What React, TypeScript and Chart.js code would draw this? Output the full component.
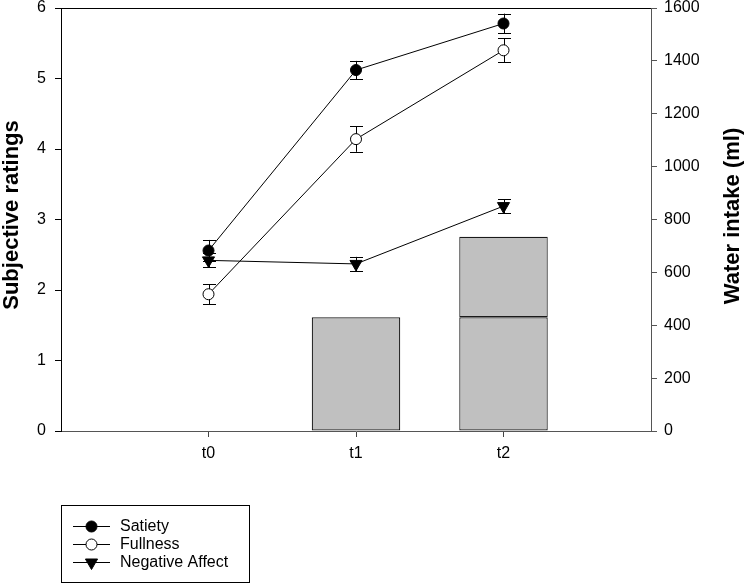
import React, { useEffect, useRef } from 'react';
import { Chart, registerables } from 'chart.js';

Chart.register(...registerables);

const categories = ['t0', 't1', 't2'];
const satiety = [2.56, 5.12, 5.78];
const satietyErr = [0.15, 0.13, 0.14];
const fullness = [1.94, 4.14, 5.4];
const fullnessErr = [0.14, 0.18, 0.17];
const negativeAffect = [2.42, 2.37, 3.19];
const negativeAffectErr = [0.1, 0.1, 0.1];
const waterFirst: (number | null)[] = [null, 430, 430];
const waterSecond: (number | null)[] = [null, null, 305];
const leftTitle = 'Subjective ratings';
const rightTitle = 'Water intake (ml)';

const FONT = "'Liberation Sans', Arial, Helvetica, sans-serif";

const toPoints = (vals: (number | null)[]) => vals.map((v, i) => ({ x: i, y: v }));

const errorBarPlugin = {
  id: 'errorBars',
  beforeDatasetsDraw(chart: any) {
    const ctx = chart.ctx;
    const y = chart.scales.y;
    const x = chart.scales.x;
    ctx.save();
    ctx.strokeStyle = '#000';
    ctx.lineWidth = 1;
    chart.data.datasets.forEach((ds: any) => {
      if (!ds.errors) return;
      ds.data.forEach((p: any, i: number) => {
        const e = ds.errors[i];
        if (p.y == null || e == null) return;
        const px = Math.round(x.getPixelForValue(p.x)) + 0.5;
        const top = y.getPixelForValue(p.y + e);
        const bot = y.getPixelForValue(p.y - e);
        ctx.beginPath();
        ctx.moveTo(px, top);
        ctx.lineTo(px, bot);
        ctx.moveTo(px - 6.5, Math.round(top) + 0.5);
        ctx.lineTo(px + 6.5, Math.round(top) + 0.5);
        ctx.moveTo(px - 6.5, Math.round(bot) + 0.5);
        ctx.lineTo(px + 6.5, Math.round(bot) + 0.5);
        ctx.stroke();
      });
    });
    ctx.restore();
  },
};

function drawMarker(ctx: CanvasRenderingContext2D, ds: any, x: number, y: number) {
  ctx.beginPath();
  if (ds.pointStyle === 'triangle') {
    const r = ds.pointRadius;
    const s = r * Math.sin(Math.PI / 3);
    ctx.moveTo(x, y + r);
    ctx.lineTo(x - s, y - r / 2);
    ctx.lineTo(x + s, y - r / 2);
    ctx.closePath();
  } else {
    ctx.arc(x, y, ds.pointRadius, 0, Math.PI * 2);
  }
  ctx.fillStyle = ds.pointBackgroundColor;
  ctx.fill();
  ctx.strokeStyle = '#000';
  ctx.lineWidth = 1;
  ctx.stroke();
}

const framePlugin = {
  id: 'frameTitlesLegend',
  afterDraw(chart: any) {
    const ctx = chart.ctx;
    const a = chart.chartArea;
    ctx.save();
    // top frame line
    ctx.strokeStyle = '#000';
    ctx.lineWidth = 1;
    ctx.beginPath();
    ctx.moveTo(a.left, Math.round(a.top) + 0.5);
    ctx.lineTo(a.right, Math.round(a.top) + 0.5);
    ctx.stroke();

    // axis titles
    ctx.fillStyle = '#000';
    ctx.font = `bold 22px ${FONT}`;
    ctx.textAlign = 'center';
    ctx.textBaseline = 'middle';
    ctx.save();
    ctx.translate(12, 215);
    ctx.rotate(-Math.PI / 2);
    ctx.fillText(leftTitle, 0, 0);
    ctx.restore();
    ctx.save();
    ctx.translate(733, 216);
    ctx.rotate(-Math.PI / 2);
    ctx.fillText(rightTitle, 0, 0);
    ctx.restore();

    // legend
    ctx.strokeStyle = '#000';
    ctx.lineWidth = 1;
    ctx.strokeRect(61.5, 505.5, 188, 77);
    const items = chart.data.datasets.filter((d: any) => d.type === 'line');
    ctx.font = `16px ${FONT}`;
    ctx.textAlign = 'left';
    ctx.textBaseline = 'middle';
    items.forEach((ds: any, i: number) => {
      const yy = 526 + i * 18;
      ctx.beginPath();
      ctx.strokeStyle = '#000';
      ctx.moveTo(73, yy + 0.5);
      ctx.lineTo(110, yy + 0.5);
      ctx.stroke();
      drawMarker(ctx, ds, 91.5, yy + 0.5);
      ctx.fillStyle = '#000';
      ctx.fillText(ds.label, 120, yy + 1);
    });
    ctx.restore();
  },
};

export default function App() {
  const ref = useRef<HTMLCanvasElement>(null);

  useEffect(() => {
    if (!ref.current) return;
    const tickFont = { family: FONT, size: 16 };
    const chart = new Chart(ref.current, {
      type: 'bar',
      data: {
        datasets: [
          {
            type: 'line',
            label: 'Satiety',
            data: toPoints(satiety),
            errors: satietyErr,
            yAxisID: 'y',
            borderColor: '#000',
            borderWidth: 1,
            pointStyle: 'circle',
            pointRadius: 5.5,
            pointBackgroundColor: '#000',
            pointBorderColor: '#000',
            pointBorderWidth: 1,
            order: 0,
            clip: false,
          } as any,
          {
            type: 'line',
            label: 'Fullness',
            data: toPoints(fullness),
            errors: fullnessErr,
            yAxisID: 'y',
            borderColor: '#000',
            borderWidth: 1,
            pointStyle: 'circle',
            pointRadius: 5.5,
            pointBackgroundColor: '#fff',
            pointBorderColor: '#000',
            pointBorderWidth: 1,
            order: 1,
            clip: false,
          } as any,
          {
            type: 'line',
            label: 'Negative Affect',
            data: toPoints(negativeAffect),
            errors: negativeAffectErr,
            yAxisID: 'y',
            borderColor: '#000',
            borderWidth: 1,
            pointStyle: 'triangle',
            pointRotation: 180,
            pointRadius: 7,
            pointBackgroundColor: '#000',
            pointBorderColor: '#000',
            pointBorderWidth: 1,
            order: 2,
            clip: false,
          } as any,
          {
            type: 'bar',
            label: 'Water 1',
            data: toPoints(waterFirst),
            yAxisID: 'y2',
            stack: 'water',
            backgroundColor: '#c0c0c0',
            borderColor: '#1a1a1a',
            borderWidth: 1.2,
            borderSkipped: false,
            categoryPercentage: 1,
            barPercentage: 0.6,
            order: 5,
          } as any,
          {
            type: 'bar',
            label: 'Water 2',
            data: toPoints(waterSecond),
            yAxisID: 'y2',
            stack: 'water',
            backgroundColor: '#c0c0c0',
            borderColor: '#1a1a1a',
            borderWidth: 1.2,
            borderSkipped: false,
            categoryPercentage: 1,
            barPercentage: 0.6,
            order: 6,
          } as any,
        ],
      },
      options: {
        responsive: false,
        animation: false,
        layout: { padding: { top: 6, left: 0, right: 0, bottom: 0 } },
        plugins: {
          legend: { display: false },
          tooltip: { enabled: false },
        },
        scales: {
          x: {
            type: 'linear',
            min: -1,
            max: 3,
            offset: false,
            afterBuildTicks: (scale: any) => {
              scale.ticks = categories.map((_, i) => ({ value: i }));
            },
            afterFit: (scale: any) => {
              scale.height = 154;
              scale.paddingLeft = 0;
              scale.paddingRight = 0;
            },
            ticks: {
              callback: (v: any) => categories[v] ?? '',
              font: tickFont,
              color: '#000',
              padding: 7,
              maxRotation: 0,
              autoSkip: false,
            },
            grid: { display: true, offset: false, drawOnChartArea: false, drawTicks: true, tickLength: 6, color: '#444' },
            border: { display: true, color: '#555' },
          },
          y: {
            type: 'linear',
            position: 'left',
            min: 0,
            max: 6,
            stacked: false,
            afterFit: (scale: any) => {
              scale.width = 61;
              scale.paddingTop = 0;
              scale.paddingBottom = 0;
            },
            ticks: { stepSize: 1, font: tickFont, color: '#000', padding: 9, autoSkip: false },
            grid: { display: true, drawOnChartArea: false, drawTicks: true, tickLength: 6, color: '#000' },
            border: { display: true, color: '#000' },
          },
          y2: {
            type: 'linear',
            position: 'right',
            min: 0,
            max: 1600,
            stacked: true,
            afterFit: (scale: any) => {
              scale.width = 93;
              scale.paddingTop = 0;
              scale.paddingBottom = 0;
            },
            ticks: {
              stepSize: 200,
              font: tickFont,
              color: '#000',
              padding: 7,
              autoSkip: false,
              callback: (v: any) => String(v),
            },
            grid: { display: true, drawOnChartArea: false, drawTicks: true, tickLength: 6, color: '#555' },
            border: { display: true, color: '#555' },
          },
        },
      } as any,
      plugins: [errorBarPlugin, framePlugin],
    });
    return () => chart.destroy();
  }, []);

  return (
    <div style={{ position: 'absolute', left: 0, top: 0, width: 744, height: 585, background: '#fff' }}>
      <canvas ref={ref} width={744} height={585} />
    </div>
  );
}
